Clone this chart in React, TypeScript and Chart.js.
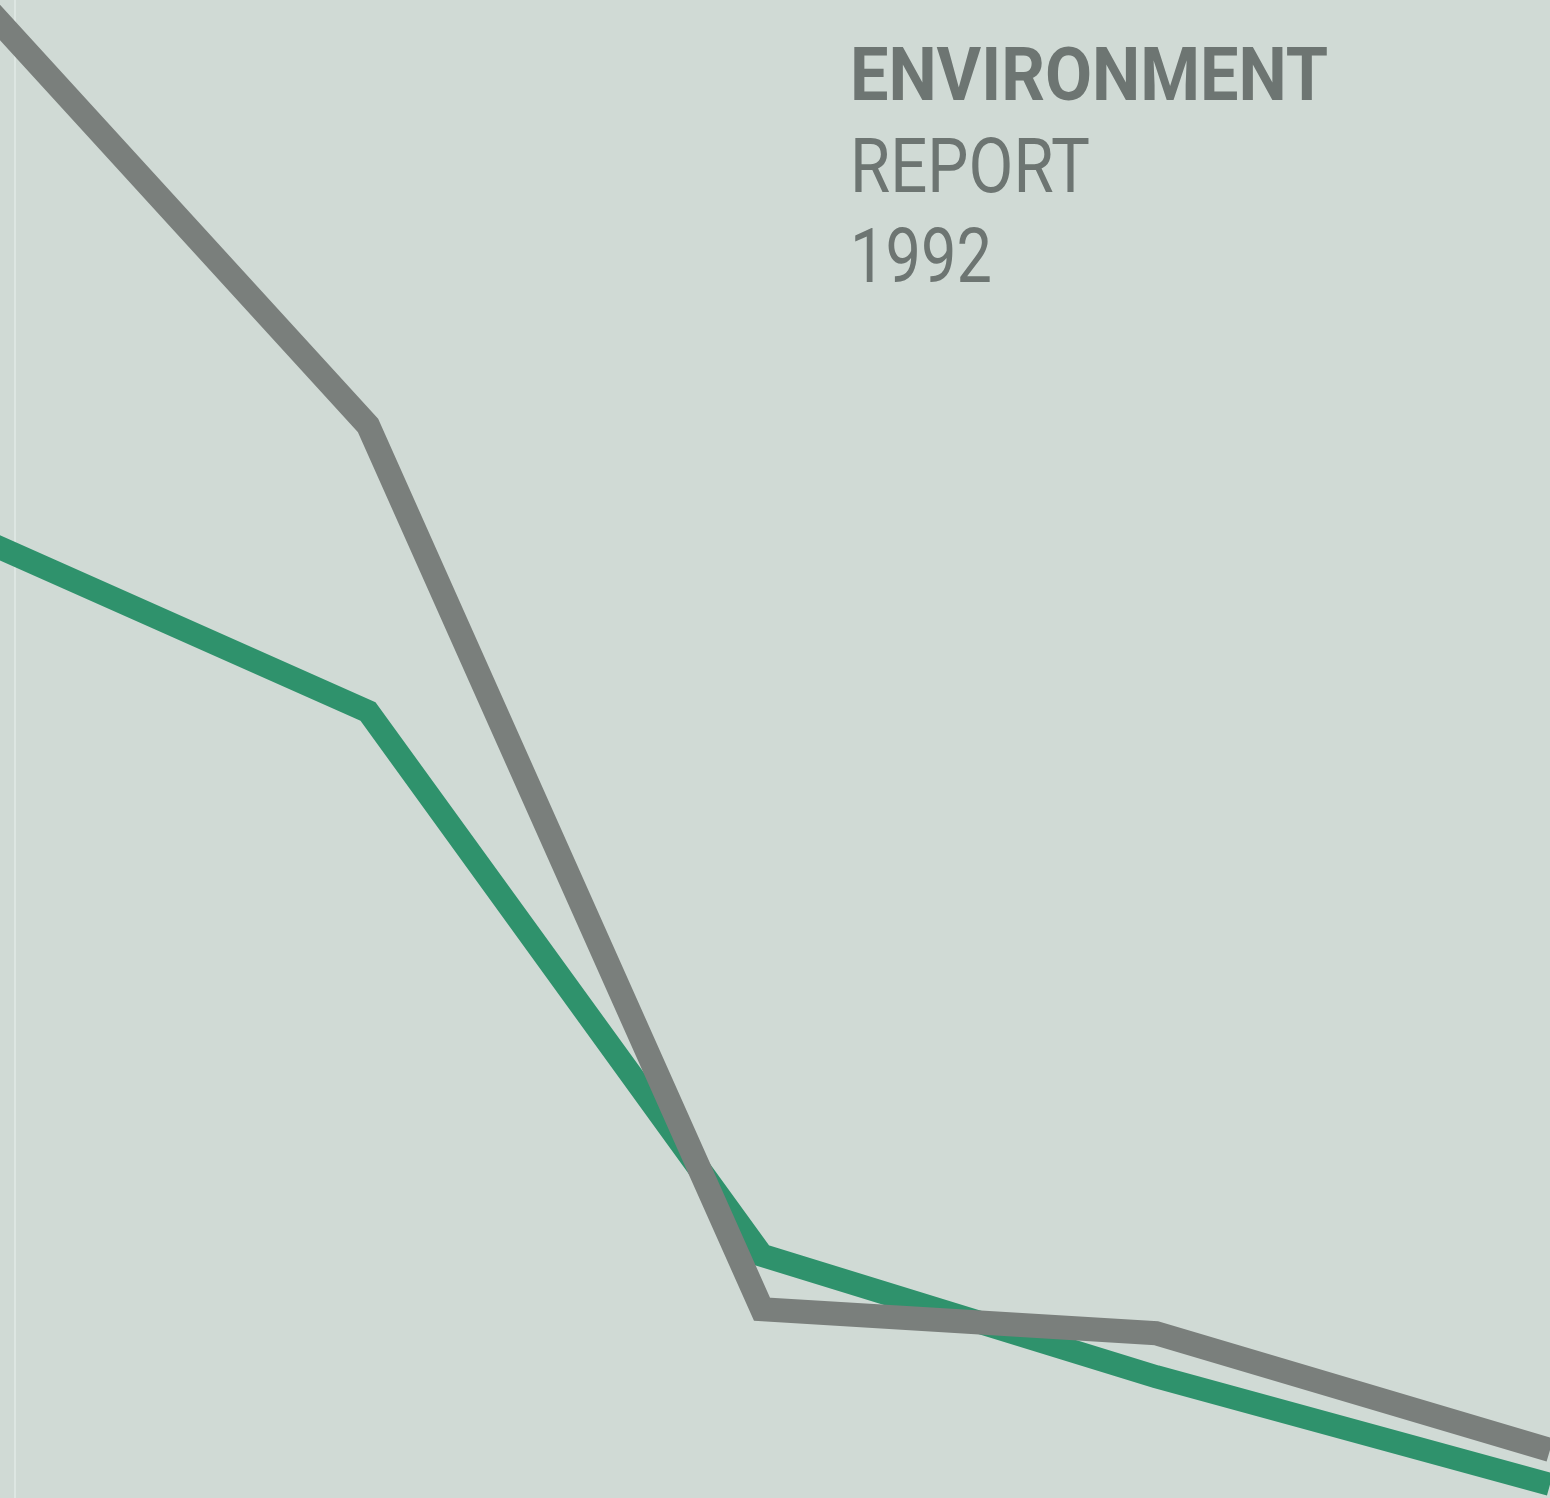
import React, { useEffect, useLayoutEffect, useRef } from "react";
import { Chart, registerables } from "chart.js";

Chart.register(...registerables);

// Years along the horizontal axis (the first point lies just off the left edge of the cover)
const years = [1988, 1989, 1990, 1991, 1992];
// Index values (0-100)
const grayValues = [100.4, 71.6, 12.6, 11.0, 3.2];
const greenValues = [64.2, 52.5, 16.2, 8.1, 0.9];

const titleLines = ["ENVIRONMENT", "REPORT", "1992"];

const W = 1550;
const H = 1498;

type TextSpec = { text: string; left: number; top: number; size: number; weight: number; width: number };

const textSpecs: TextSpec[] = [
  { text: titleLines[0], left: 850, top: 37, size: 75, weight: 700, width: 478 },
  { text: titleLines[1], left: 850, top: 128, size: 76, weight: 400, width: 240 },
  { text: titleLines[2], left: 850, top: 218, size: 76, weight: 400, width: 142 },
];

function ScaledText({ spec }: { spec: TextSpec }) {
  const ref = useRef<HTMLSpanElement>(null);
  useLayoutEffect(() => {
    const el = ref.current;
    if (!el) return;
    const fit = () => {
      el.style.transform = "none";
      const w = el.getBoundingClientRect().width;
      if (w > 0) el.style.transform = `scaleX(${spec.width / w})`;
    };
    fit();
    if ((document as any).fonts && (document as any).fonts.ready) {
      (document as any).fonts.ready.then(fit);
    }
  }, [spec]);
  return (
    <span
      ref={ref}
      style={{
        position: "absolute",
        left: spec.left,
        top: spec.top,
        fontFamily: "Roboto, 'Noto Sans', sans-serif",
        fontSize: spec.size,
        fontWeight: spec.weight,
        lineHeight: 1,
        color: "#6d7572",
        whiteSpace: "nowrap",
        transformOrigin: "0 0",
        display: "inline-block",
      }}
    >
      {spec.text}
    </span>
  );
}

export default function App() {
  const canvasRef = useRef<HTMLCanvasElement>(null);

  useEffect(() => {
    const canvas = canvasRef.current;
    if (!canvas) return;
    const chart = new Chart(canvas, {
      type: "line",
      data: {
        datasets: [
          {
            label: "Gray",
            data: years.map((y, i) => ({ x: y, y: grayValues[i] })),
            borderColor: "#7a7f7c",
            borderWidth: 24,
            pointRadius: 0,
            tension: 0,
            fill: false,
            borderJoinStyle: "miter",
            borderCapStyle: "butt",
          },
          {
            label: "Green",
            data: years.map((y, i) => ({ x: y, y: greenValues[i] })),
            borderColor: "#2f926c",
            borderWidth: 23,
            pointRadius: 0,
            tension: 0,
            fill: false,
            borderJoinStyle: "miter",
            borderCapStyle: "butt",
          },
        ],
      },
      options: {
        responsive: false,
        animation: false,
        events: [],
        layout: { padding: 0 },
        scales: {
          x: { type: "linear", display: false, min: 1988.066, max: 1992 },
          y: { type: "linear", display: false, min: 0, max: 100 },
        },
        plugins: {
          legend: { display: false },
          tooltip: { enabled: false },
          title: { display: false },
        },
      },
    });
    return () => chart.destroy();
  }, []);

  return (
    <div
      style={{
        position: "absolute",
        left: 0,
        top: 0,
        width: W,
        height: H,
        overflow: "hidden",
        background: "#d0dad5",
      }}
    >
      <div
        style={{
          position: "absolute",
          left: 14,
          top: 0,
          width: 2,
          height: H,
          background: "#dde6e2",
        }}
      />
      <canvas
        ref={canvasRef}
        width={W}
        height={H}
        style={{ position: "absolute", left: 0, top: 0, width: W, height: H }}
      />
      {textSpecs.map((s) => (
        <ScaledText key={s.text} spec={s} />
      ))}
    </div>
  );
}
